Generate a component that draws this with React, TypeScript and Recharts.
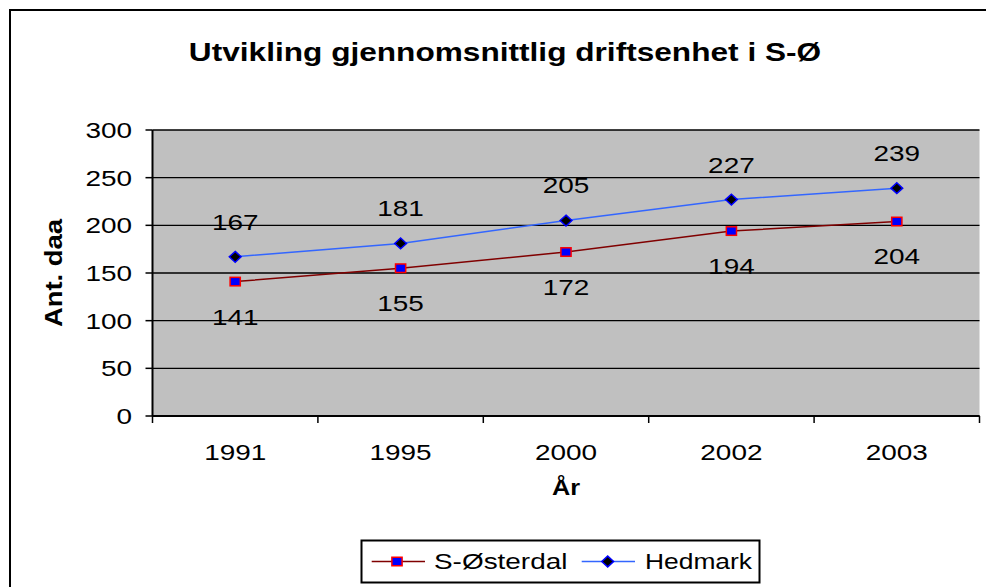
import { LineChart, Line, XAxis, YAxis, CartesianGrid, LabelList } from 'recharts';

const FONT = '"Liberation Sans", Arial, sans-serif';

const years = ['1991', '1995', '2000', '2002', '2003'];
const sOsterdal = [141, 155, 172, 194, 204];
const hedmark = [167, 181, 205, 227, 239];
const yTicks = [0, 50, 100, 150, 200, 250, 300];
const seriesNames = ['S-Østerdal', 'Hedmark'];
const title = 'Utvikling gjennomsnittlig driftsenhet i S-Ø';
const yTitle = 'Ant. daa';
const xTitle = 'År';

const data = years.map((year, i) => ({ idx: i, year, soe: sOsterdal[i], hed: hedmark[i] }));
// category centres carry the labels, the half steps carry Excel's between-category tick marks
const xTicks = [-0.5, ...years.flatMap((_, i) => [i, i + 0.5])];

// Excel export: text is rendered wider than the font's natural proportions
const SX = 1.27;

const square = (cx: number, cy: number, key?: any) => (
  <rect key={key} x={cx - 5.1} y={cy - 4.25} width={10.2} height={8.5} fill="#0000FF" stroke="#FF0000" strokeWidth={1.5} />
);
const diamond = (cx: number, cy: number, key?: any) => (
  <polygon
    key={key}
    points={`${cx},${cy - 5.4} ${cx + 5.9},${cy} ${cx},${cy + 5.4} ${cx - 5.9},${cy}`}
    fill="#000"
    stroke="#0000FF"
    strokeWidth={1.5}
  />
);

const YTick = (p: any) => (
  <text transform={`translate(${p.x},${p.y}) scale(${SX},1)`} textAnchor="end" dy="0.36em" fontSize={22} fill="#000" fontFamily={FONT}>
    {p.payload.value}
  </text>
);

const XTick = (p: any) => {
  const v = p.payload.value;
  if (!Number.isInteger(v)) {
    return <line x1={p.x} x2={p.x} y1={p.y} y2={p.y + 7} stroke="#000" strokeWidth={1.5} />;
  }
  return (
    <text transform={`translate(${p.x},${p.y + 28}) scale(${SX},1)`} textAnchor="middle" dy="0.72em" fontSize={22} fill="#000" fontFamily={FONT}>
      {years[v]}
    </text>
  );
};

const labelAt = (offset: number) => (p: any) => (
  <text transform={`translate(${p.x},${p.y + offset}) scale(${SX},1)`} textAnchor="middle" dy="0.36em" fontSize={22} fill="#000" fontFamily={FONT}>
    {p.value}
  </text>
);

const YTitle = (p: any) => {
  const vb = p.viewBox;
  const cx = vb.x + 43.5;
  const cy = vb.y + vb.height / 2;
  return (
    <text transform={`translate(${cx},${cy}) rotate(-90) scale(1.12,1)`} textAnchor="middle" dy="0.36em" fontSize={24.5} fontWeight="bold" fill="#000" fontFamily={FONT}>
      {yTitle}
    </text>
  );
};

const XTitle = (p: any) => {
  const vb = p.viewBox;
  return (
    <text transform={`translate(${vb.x + vb.width / 2},${vb.y + 79}) scale(1.15,1)`} textAnchor="middle" fontSize={22} fontWeight="bold" fill="#000" fontFamily={FONT}>
      {xTitle}
    </text>
  );
};

export default function App() {
  return (
    <div style={{ position: 'absolute', left: 0, top: 0, width: 986, height: 587, overflow: 'hidden', background: '#fff' }}>
      <div style={{ position: 'absolute', left: 9, top: 9, width: 1200, height: 800, border: '2px solid #000' }} />
      <div style={{ position: 'absolute', left: 0, top: 0 }}>
        <LineChart width={986} height={587} data={data} margin={{ top: 130, right: 6.5, left: 10, bottom: 71 }}>
          <CartesianGrid xAxisId="x" vertical={false} fill="#C0C0C0" fillOpacity={1} stroke="#000" strokeWidth={1.3} />
          <XAxis
            xAxisId="x"
            dataKey="idx"
            type="number"
            domain={[-0.5, 4.5]}
            allowDataOverflow
            ticks={xTicks}
            interval={0}
            tick={<XTick />}
            tickSize={0}
            tickMargin={0}
            tickLine={false}
            axisLine={{ stroke: '#000', strokeWidth: 2 }}
            height={100}
            label={XTitle}
          />
          <XAxis
            xAxisId="t"
            orientation="top"
            type="number"
            domain={[-0.5, 4.5]}
            allowDataOverflow
            tick={false}
            tickLine={false}
            height={0}
            axisLine={{ stroke: '#808080', strokeWidth: 2 }}
          />
          <YAxis
            domain={[0, 300]}
            ticks={yTicks}
            interval={0}
            width={142.5}
            tick={<YTick />}
            tickSize={7}
            tickMargin={13.5}
            axisLine={{ stroke: '#000', strokeWidth: 2 }}
            tickLine={{ stroke: '#000', strokeWidth: 1.5 }}
            label={YTitle}
          />
          <YAxis
            yAxisId="r"
            orientation="right"
            domain={[0, 300]}
            width={0}
            tick={false}
            tickLine={false}
            axisLine={{ stroke: '#808080', strokeWidth: 2 }}
          />
          <Line
            xAxisId="x"
            type="linear"
            dataKey="soe"
            name={seriesNames[0]}
            stroke="#800000"
            strokeWidth={1.5}
            dot={(p: any) => square(p.cx, p.cy, `s${p.index}`)}
            activeDot={false}
            isAnimationActive={false}
          >
            <LabelList dataKey="soe" content={labelAt(35)} />
          </Line>
          <Line
            xAxisId="x"
            type="linear"
            dataKey="hed"
            name={seriesNames[1]}
            stroke="#3366FF"
            strokeWidth={1.5}
            dot={(p: any) => diamond(p.cx, p.cy, `h${p.index}`)}
            activeDot={false}
            isAnimationActive={false}
          >
            <LabelList dataKey="hed" content={labelAt(-35)} />
          </Line>
        </LineChart>
      </div>
      <svg width={986} height={587} style={{ position: 'absolute', left: 0, top: 0, pointerEvents: 'none' }}>
        <text transform={`translate(505,61) scale(1.24,1)`} textAnchor="middle" fontSize={25.5} fontWeight="bold" fill="#000" fontFamily={FONT}>
          {title}
        </text>
        <g>
          <rect x={361.5} y={540.5} width={398} height={42} fill="#fff" stroke="#000" strokeWidth={2} />
          <line x1={371.7} x2={425} y1={561.5} y2={561.5} stroke="#800000" strokeWidth={1.5} />
          {square(397, 561.5)}
          <text transform={`translate(434,561.5) scale(${SX},1)`} dy="0.36em" fontSize={22} fill="#000" fontFamily={FONT}>
            {seriesNames[0]}
          </text>
          <line x1={581.7} x2={635} y1={561.5} y2={561.5} stroke="#3366FF" strokeWidth={1.5} />
          {diamond(607.7, 561.5)}
          <text transform={`translate(645,561.5) scale(1.2,1)`} dy="0.36em" fontSize={22} fill="#000" fontFamily={FONT}>
            {seriesNames[1]}
          </text>
        </g>
      </svg>
    </div>
  );
}
